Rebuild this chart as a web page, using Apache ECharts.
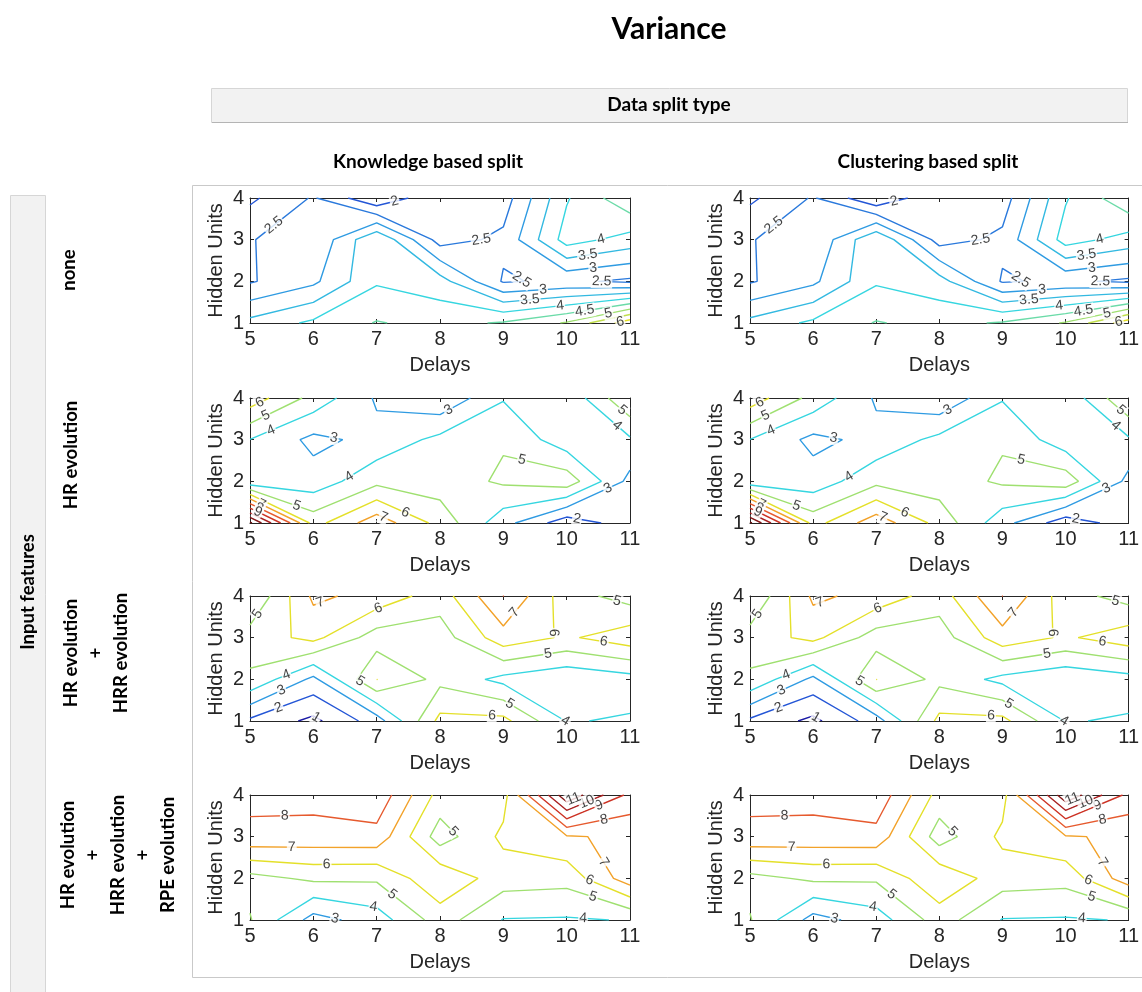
<!DOCTYPE html>
<html>
<head>
<meta charset="utf-8">
<script src="https://cdn.jsdelivr.net/npm/echarts@6/dist/echarts.min.js"></script>
<style>
  html, body { margin: 0; padding: 0; background: #ffffff; }
  #chart { width: 1142px; height: 992px; }
</style>
</head>
<body>
<div id="chart"></div>
<script>
// ---- grid axes -------------------------------------------------------------
const delays = [5, 6, 7, 8, 9, 10, 11];
const hiddenUnits = [1, 2, 3, 4];

// ---- variance surfaces: one row per hidden-unit count (1 -> 4), one column per delay (5 -> 11)
const varNone = [
  [3.65, 4.10, 4.53, 4.35, 4.55, 5.05, 6.30],
  [2.45, 2.89, 3.94, 3.71, 2.45, 2.60, 2.40],
  [2.495, 2.55, 3.97, 2.29, 2.61, 4.22, 3.80],
  [1.90, 2.55, 1.55, 2.45, 2.25, 3.95, 4.90]
];
const varHR = [
  [12.2, 5.60, 7.60, 5.65, 3.37, 1.40, 2.50],
  [3.20, 3.41, 4.72, 4.47, 5.16, 5.60, 2.68],
  [3.98, 2.74, 3.30, 4.28, 4.90, 3.38, 3.86],
  [6.58, 4.66, 2.87, 2.15, 3.92, 3.20, 5.94]
];
const varHRHRR = [
  [1.80, 0.75, 2.50, 6.30, 6.30, 3.95, 4.09],
  [4.84, 2.75, 6.02, 4.71, 3.71, 3.20, 3.60],
  [5.44, 6.30, 4.50, 4.51, 6.60, 5.85, 6.60],
  [3.98, 7.20, 6.68, 5.47, 8.02, 5.43, 4.57]
];
const varHRHRRRPE = [
  [5.07, 2.60, 3.50, 5.48, 3.95, 3.90, 4.05],
  [4.65, 5.20, 5.15, 6.78, 5.48, 5.35, 7.58],
  [7.75, 7.62, 7.65, 4.51, 6.22, 6.90, 7.20],
  [8.27, 8.35, 8.74, 5.62, 5.60, 11.8, 8.70]
];

// ---- contour levels per feature set
const levelsNone = [2, 2.5, 3, 3.5, 4, 4.5, 5, 5.5, 6];
const levelsHR = [2, 3, 4, 5, 6, 7, 8, 9, 10, 11, 12];
const levelsHRHRR = [1, 2, 3, 4, 5, 6, 7, 8];
const levelsHRHRRRPE = [3, 4, 5, 6, 7, 8, 9, 10, 11];

// ---- panel titles
const chartTitle = 'Variance';
const splitHeader = 'Data split type';
const splitTypes = ['Knowledge based split', 'Clustering based split'];
const featureHeader = 'Input features';
const featureSets = [
  'none',
  'HR evolution',
  'HR evolution\n+\nHRR evolution',
  'HR evolution\n+\nHRR evolution\n+\nRPE evolution'
];
const xAxisName = 'Delays';
const yAxisName = 'Hidden Units';

// both split types share the same surfaces
const knowledgeSplit = [varNone, varHR, varHRHRR, varHRHRRRPE];
const clusteringSplit = [varNone, varHR, varHRHRR, varHRHRRRPE];
const levelSets = [levelsNone, levelsHR, levelsHRHRR, levelsHRHRRRPE];

// ---- where the inline level labels sit (level, near delay, near hidden units),
//      snapped onto the nearest contour of that level
const labelLayout = [
  [[2.5, 5.37, 3.36], [2, 7.29, 3.88], [2.5, 8.66, 2.92], [4, 10.55, 2.96], [3.5, 10.34, 2.56],
   [3, 10.42, 2.32], [2.5, 9.29, 2.04], [2.5, 10.55, 1.92], [3, 9.63, 1.76], [3.5, 9.42, 1.56],
   [4, 9.9, 1.4], [4.5, 10.29, 1.24], [5, 10.66, 1.22], [6, 10.84, 1.06]],
  [[6, 5.16, 3.88], [5, 5.26, 3.54], [4, 5.34, 3.2], [3, 6.32, 3.0], [3, 8.16, 3.64],
   [4, 6.58, 2.08], [5, 9.29, 2.48], [5, 10.84, 3.64], [4, 10.76, 3.28], [3, 10.66, 1.8],
   [2, 10.16, 1.08], [5, 5.71, 1.3], [6, 7.45, 1.24], [7, 7.1, 1.12],
   [7, 5.2, 1.5], [8, 5.15, 1.38], [9, 5.12, 1.25]],
  [[5, 5.16, 3.52], [7, 6.1, 3.88], [6, 7.03, 3.69], [7, 9.21, 3.56], [5, 10.79, 3.85],
   [6, 9.84, 3.12], [6, 10.58, 2.84], [5, 9.71, 2.56], [4, 5.58, 2.08], [3, 5.5, 1.73],
   [2, 5.45, 1.33], [1, 6.05, 1.1], [5, 6.74, 1.96], [5, 9.1, 1.4], [6, 8.82, 1.1], [4, 10.03, 1.04]],
  [[8, 5.55, 3.46], [7, 5.66, 2.79], [6, 6.21, 2.39], [4, 6.95, 1.32],
   [3, 6.34, 1.04], [5, 7.24, 1.6], [5, 8.18, 3.08], [7, 10.63, 2.43], [8, 10.58, 3.47],
   [9, 10.5, 3.79], [10, 10.32, 3.83], [11, 10.13, 3.83], [6, 10.34, 1.88], [5, 10.4, 1.48],
   [4, 10.26, 1.08]]
];

// ---- colour of a contour level (jet-like ramp)
const levelRamp = [
  [1, [26, 26, 166]], [2, [36, 86, 214]], [3, [47, 155, 226]], [4, [54, 214, 224]],
  [5, [159, 224, 112]], [6, [228, 224, 42]], [7, [242, 162, 42]], [8, [230, 90, 46]],
  [9, [204, 50, 36]], [10, [168, 32, 32]], [11, [134, 22, 22]], [12, [106, 16, 16]]
];
function levelColor(v) {
  if (v <= levelRamp[0][0]) return 'rgb(' + levelRamp[0][1].join(',') + ')';
  for (let k = 0; k < levelRamp.length - 1; k++) {
    const [v0, c0] = levelRamp[k], [v1, c1] = levelRamp[k + 1];
    if (v >= v0 && v <= v1) {
      const t = (v - v0) / (v1 - v0);
      return 'rgb(' + c0.map((c, i) => Math.round(c + t * (c1[i] - c))).join(',') + ')';
    }
  }
  return 'rgb(' + levelRamp[levelRamp.length - 1][1].join(',') + ')';
}

// ---- marching squares: polylines of one level on the delay x hidden-unit grid
function contourLines(z, level) {
  const nx = delays.length, ny = hiddenUnits.length;
  const pts = {}, adj = {};
  function edge(i1, j1, i2, j2) {
    const v1 = z[j1][i1], v2 = z[j2][i2];
    if ((v1 >= level) === (v2 >= level)) return null;
    const key = i1 + ',' + j1 + '-' + i2 + ',' + j2;
    if (!pts[key]) {
      const t = (level - v1) / (v2 - v1);
      pts[key] = [delays[i1] + t * (delays[i2] - delays[i1]),
                  hiddenUnits[j1] + t * (hiddenUnits[j2] - hiddenUnits[j1])];
    }
    return key;
  }
  function link(a, b) {
    (adj[a] = adj[a] || []).push(b);
    (adj[b] = adj[b] || []).push(a);
  }
  for (let j = 0; j < ny - 1; j++) {
    for (let i = 0; i < nx - 1; i++) {
      const bottom = edge(i, j, i + 1, j), right = edge(i + 1, j, i + 1, j + 1);
      const top = edge(i, j + 1, i + 1, j + 1), left = edge(i, j, i, j + 1);
      const list = [bottom, right, top, left].filter(Boolean);
      if (list.length === 2) link(list[0], list[1]);
      else if (list.length === 4) {
        const a = z[j][i], b = z[j][i + 1], c = z[j + 1][i + 1], d = z[j + 1][i];
        const centreHigh = (a + b + c + d) / 4 >= level;
        if ((a >= level) === centreHigh) { link(bottom, right); link(top, left); }
        else { link(bottom, left); link(right, top); }
      }
    }
  }
  const used = new Set(), lines = [];
  function trace(start) {
    const chain = [start];
    used.add(start);
    let cur = start;
    for (;;) {
      const nxt = (adj[cur] || []).find(k => !used.has(k));
      if (!nxt) break;
      used.add(nxt); chain.push(nxt); cur = nxt;
    }
    if (chain.length > 2 && adj[cur].includes(start)) chain.push(start);
    return chain.map(k => pts[k]);
  }
  Object.keys(adj).filter(k => adj[k].length === 1).forEach(k => { if (!used.has(k)) lines.push(trace(k)); });
  Object.keys(adj).forEach(k => { if (!used.has(k)) lines.push(trace(k)); });
  return lines;
}

// ---- snap a label anchor onto the nearest stretch of its contour
function snapLabel(lines, ax, ay, w, h) {
  const sx = w / (delays[delays.length - 1] - delays[0]);
  const sy = h / (hiddenUnits[hiddenUnits.length - 1] - hiddenUnits[0]);
  const toPx = p => [(p[0] - delays[0]) * sx, (p[1] - hiddenUnits[0]) * sy];
  const a = toPx([ax, ay]);
  let best = null;
  lines.forEach(line => {
    for (let k = 0; k < line.length - 1; k++) {
      const p = toPx(line[k]), q = toPx(line[k + 1]);
      const dx = q[0] - p[0], dy = q[1] - p[1];
      const l2 = dx * dx + dy * dy;
      let t = l2 > 0 ? ((a[0] - p[0]) * dx + (a[1] - p[1]) * dy) / l2 : 0;
      t = Math.max(0, Math.min(1, t));
      const dist = Math.hypot(a[0] - (p[0] + t * dx), a[1] - (p[1] + t * dy));
      if (!best || dist < best.dist) {
        best = { dist, dx, dy,
          value: [line[k][0] + t * (line[k + 1][0] - line[k][0]), line[k][1] + t * (line[k + 1][1] - line[k][1])] };
      }
    }
  });
  if (!best || best.dist > 30) return null;
  let ang = Math.atan2(best.dy, best.dx) * 180 / Math.PI;
  if (ang > 90) ang -= 180;
  if (ang < -90) ang += 180;
  return { value: best.value, angle: ang };
}

// ---- layout
const panelLeft = [250, 750];
const panelTop = [198, 398, 596, 795];
const panelW = 380, panelH = 125;
const axisFont = 'Liberation Sans';
const ink = '#262626';

const grids = [], xAxes = [], yAxes = [], series = [];
let g = 0;
[knowledgeSplit, clusteringSplit].forEach((surfaces, col) => {
  surfaces.forEach((z, row) => {
    grids.push({ left: panelLeft[col], top: panelTop[row], width: panelW, height: panelH, show: false });
    const tick = { show: true, inside: true, length: 4, lineStyle: { color: ink, width: 1 } };
    const line = { show: true, lineStyle: { color: ink, width: 1 } };
    xAxes.push({
      gridIndex: g, type: 'value', min: delays[0], max: delays[delays.length - 1], interval: 1,
      position: 'bottom', axisLine: line, axisTick: tick, splitLine: { show: false },
      axisLabel: { fontSize: 20, color: ink, fontFamily: axisFont, margin: 6 },
      name: xAxisName, nameLocation: 'middle', nameGap: 32,
      nameTextStyle: { fontSize: 20, color: ink, fontFamily: axisFont }
    });
    xAxes.push({
      gridIndex: g, type: 'value', min: delays[0], max: delays[delays.length - 1], interval: 1,
      position: 'top', axisLine: line, axisTick: tick, splitLine: { show: false },
      axisLabel: { show: false }
    });
    yAxes.push({
      gridIndex: g, type: 'value', min: hiddenUnits[0], max: hiddenUnits[hiddenUnits.length - 1], interval: 1,
      position: 'left', axisLine: line, axisTick: tick, splitLine: { show: false },
      axisLabel: { fontSize: 20, color: ink, fontFamily: axisFont, margin: 6 },
      name: yAxisName, nameLocation: 'middle', nameGap: 24,
      nameTextStyle: { fontSize: 20, color: ink, fontFamily: axisFont }
    });
    yAxes.push({
      gridIndex: g, type: 'value', min: hiddenUnits[0], max: hiddenUnits[hiddenUnits.length - 1], interval: 1,
      position: 'right', axisLine: line, axisTick: tick, splitLine: { show: false },
      axisLabel: { show: false }
    });

    const byLevel = {};
    levelSets[row].forEach(level => {
      const color = levelColor(level);
      byLevel[level] = contourLines(z, level);
      byLevel[level].forEach(pl => {
        series.push({
          type: 'line', xAxisIndex: 2 * g, yAxisIndex: 2 * g, data: pl,
          showSymbol: false, symbol: 'none', silent: true, z: 2,
          lineStyle: { color: color, width: 1.4 }
        });
      });
    });
    const labels = [];
    labelLayout[row].forEach(([level, ax, ay]) => {
      const spot = snapLabel(byLevel[level] || [], ax, ay, panelW, panelH);
      if (spot) labels.push({ value: spot.value, label: { rotate: spot.angle, formatter: String(level) } });
    });
    series.push({
      type: 'scatter', xAxisIndex: 2 * g, yAxisIndex: 2 * g, data: labels,
      symbolSize: 0, silent: true, z: 5,
      label: {
        show: true, position: 'inside', color: '#111', fontSize: 14, fontFamily: axisFont,
        backgroundColor: '#ffffff', padding: [0, 1]
      }
    });
    g++;
  });
});

// ---- header / side decorations
const headFont = 'Lato, "Open Sans", sans-serif';
const graphic = [
  { type: 'rect', shape: { x: 192.5, y: 185.5, width: 1000, height: 792 },
    style: { fill: 'none', stroke: '#c9c9c9', lineWidth: 1 }, z: -1 },
  { type: 'rect', shape: { x: 211.5, y: 88.5, width: 916, height: 34 },
    style: { fill: '#f2f2f2', stroke: '#d6d6d6', lineWidth: 1 }, z: -1 },
  { type: 'line', shape: { x1: 212, y1: 122.5, x2: 1128, y2: 122.5 },
    style: { stroke: '#b4b4b4', lineWidth: 1 }, z: -1 },
  { type: 'rect', shape: { x: 10.5, y: 195.5, width: 35, height: 820 },
    style: { fill: '#f2f2f2', stroke: '#d6d6d6', lineWidth: 1 }, z: -1 },
  { type: 'text', x: 669, y: 29,
    style: { text: chartTitle, textAlign: 'center', textVerticalAlign: 'middle', align: 'center', verticalAlign: 'middle',
             font: 'bold 30px ' + headFont, fill: '#000' } },
  { type: 'text', x: 669, y: 105,
    style: { text: splitHeader, textAlign: 'center', textVerticalAlign: 'middle', align: 'center', verticalAlign: 'middle',
             font: 'bold 19px ' + headFont, fill: '#000' } },
  { type: 'text', x: 28, y: 592, rotation: Math.PI / 2,
    style: { text: featureHeader, textAlign: 'center', textVerticalAlign: 'middle', align: 'center', verticalAlign: 'middle',
             font: 'bold 18.5px ' + headFont, fill: '#000' } }
];
splitTypes.forEach((t, col) => {
  graphic.push({ type: 'text', x: panelLeft[col] + 178, y: 162,
    style: { text: t, textAlign: 'center', textVerticalAlign: 'middle', align: 'center', verticalAlign: 'middle',
             font: 'bold 19px ' + headFont, fill: '#000' } });
});
const featureX = [69, 71, 96, 118];
const featureY = [270, 455, 653, 855];
featureSets.forEach((t, row) => {
  graphic.push({ type: 'text', x: featureX[row], y: featureY[row], rotation: Math.PI / 2,
    style: { text: t, textAlign: 'center', textVerticalAlign: 'middle', align: 'center', verticalAlign: 'middle',
             font: 'bold 18.5px ' + headFont, fill: '#000', lineHeight: 25 } });
});

const chart = echarts.init(document.getElementById('chart'), null, { renderer: 'canvas' });
chart.setOption({
  animation: false,
  backgroundColor: '#ffffff',
  textStyle: { fontFamily: axisFont },
  grid: grids,
  xAxis: xAxes,
  yAxis: yAxes,
  series: series,
  graphic: graphic
});
</script>
</body>
</html>
